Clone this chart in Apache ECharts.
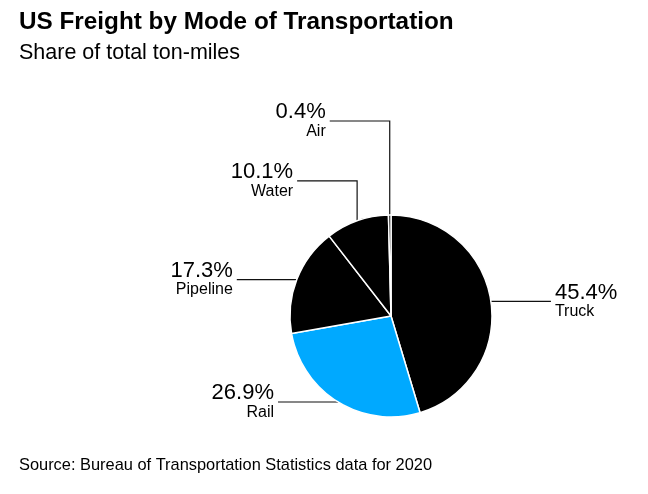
<!DOCTYPE html>
<html><head><meta charset="utf-8">
<script src="https://cdn.jsdelivr.net/npm/echarts@6/dist/echarts.min.js"></script>
<style>html,body{margin:0;padding:0;background:#fff}#c{width:648px;height:494px}</style>
</head><body><div id="c"></div>
<script>
// Data
const modes = ['Truck', 'Rail', 'Pipeline', 'Water', 'Air'];
const shares = [45.4, 26.9, 17.3, 10.1, 0.4];
const sliceColors = ['#000000', '#00A9FF', '#000000', '#000000', '#000000'];
// label styling: which side the label sits, and how far the leader rises before turning
const labelSide = ['right', 'left', 'left', 'left', 'left'];
const leaderRise = [0, 0, 0, 40, 94];

const FONT = '"Liberation Sans", Arial, Helvetica, sans-serif';
const chart = echarts.init(document.getElementById('c'), null, { renderer: 'canvas' });

const data = modes.map((m, i) => ({
  name: m,
  value: shares[i],
  itemStyle: { color: sliceColors[i] }
}));

chart.setOption({
  backgroundColor: '#fff',
  animation: false,
  title: [
    { text: 'US Freight by Mode of Transportation', left: 19, top: 10, padding: 0,
      textStyle: { fontFamily: FONT, fontSize: 24.3, fontWeight: 'bold', color: '#000' } },
    { text: 'Share of total ton-miles', left: 19, top: 42, padding: 0,
      textStyle: { fontFamily: FONT, fontSize: 21.5, fontWeight: 'normal', color: '#000' } },
    { text: 'Source: Bureau of Transportation Statistics data for 2020', left: 19, top: 457, padding: 0,
      textStyle: { fontFamily: FONT, fontSize: 16.4, fontWeight: 'normal', color: '#000' } }
  ],
  series: [{
    type: 'pie',
    center: [391, 316],
    radius: 101,
    startAngle: 90,
    clockwise: true,
    avoidLabelOverlap: false,
    data: data,
    itemStyle: { borderColor: '#fff', borderWidth: 1.5 },
    emphasis: { disabled: true },
    label: {
      show: true,
      position: 'outside',
      formatter: p => '{p|' + p.value + '%}\n{n|' + p.name + '}',
      fontFamily: FONT,
      color: '#000',
      rich: {
        p: { fontFamily: FONT, fontSize: 22, lineHeight: 20, color: '#000' },
        n: { fontFamily: FONT, fontSize: 16, lineHeight: 18, color: '#000' }
      }
    },
    labelLine: {
      show: true,
      length: 10,
      length2: 10,
      smooth: false,
      lineStyle: { color: '#111', width: 1.2 }
    },
    labelLayout: function (p) {
      const i = p.dataIndex;
      const s = p.labelLinePoints[0];
      const dir = labelSide[i] === 'right' ? 1 : -1;
      const ey = s[1] - leaderRise[i];
      const ex = s[0] + dir * 60;
      const mid = leaderRise[i] ? [s[0], ey] : [s[0] + dir * 30, ey];
      return {
        x: ex + dir * 4,
        y: ey - 18.6,
        align: dir > 0 ? 'left' : 'right',
        verticalAlign: 'top',
        labelLinePoints: [s, mid, [ex, ey]]
      };
    }
  }]
});
</script></body></html>
